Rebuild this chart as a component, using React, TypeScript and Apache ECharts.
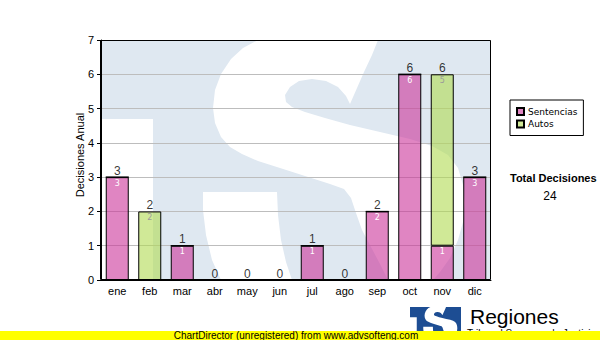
import React, { useEffect, useRef } from 'react';
import * as echarts from 'echarts';

const months = ['ene', 'feb', 'mar', 'abr', 'may', 'jun', 'jul', 'ago', 'sep', 'oct', 'nov', 'dic'];
const sentencias = [3, 0, 1, 0, 0, 0, 1, 0, 2, 6, 1, 3];
const autos = [0, 2, 0, 0, 0, 0, 0, 0, 0, 0, 5, 0];
const yMin = 0;
const yMax = 7;
const yStep = 1;
const seriesNames = ['Sentencias', 'Autos'];
const yAxisTitle = 'Decisiones Anual';
const totalTitle = 'Total Decisiones';

// decorative watermark (TSJ "S" mark), page pixel coordinates
const MARK_D =
  'M101,119 L153,119 L153,280 L101,280 Z ' +
  'M258,40 L378,40 L372,55 L364,72 L357,88 L350,104 L346,96 L338,87 L326,81 L312,79 L299,81 L290,87 L285,95 L286,102 L292,107 L305,112 L325,118 L350,125 L380,132 L410,139 L432,146 L448,155 L458,168 L463,185 L465,203 L463,222 L458,240 L450,258 L440,272 L433,280 L388,280 L380,264 L371,247 L362,230 L356,213 L351,198 L344,189 L330,184 L305,176 L280,168 L258,161 L242,154 L230,147 L221,137 L215,123 L213,108 L215,90 L221,74 L231,59 L243,48 Z ' +
  'M203,192 L277,192 L278,215 L281,240 L286,262 L292,280 L221,280 L212,260 L206,235 L203,210 Z';

let registered = false;
function ensureShape() {
  if (registered) return;
  echarts.graphic.registerShape('tsjMark', echarts.graphic.extendPath(MARK_D, {}));
  registered = true;
}

const AX_FONT = '"Liberation Sans", Arial, sans-serif';

export default function App() {
  const ref = useRef<HTMLDivElement>(null);
  useEffect(() => {
    document.body.style.margin = '0';
    ensureShape();
    const chart = echarts.init(ref.current!, undefined, { renderer: 'svg' });
    const totals = sentencias.map((v, i) => v + autos[i]);
    const grand = totals.reduce((a, b) => a + b, 0);
    const s = 0.13;
    chart.setOption({
      animation: false,
      grid: { left: 101, right: 109, top: 40, bottom: 60 },
      legend: {
        data: seriesNames,
        orient: 'vertical',
        left: 510,
        top: 100,
        padding: [7, 6, 7, 6],
        itemWidth: 7,
        itemHeight: 7,
        itemGap: 3.5,
        borderColor: '#000',
        borderWidth: 1,
        backgroundColor: '#fff',
        icon: 'rect',
        textStyle: { fontFamily: '"DejaVu Sans", Verdana, sans-serif', fontSize: 9, color: '#000', padding: [0, 0, 0, -1] },
      },
      xAxis: {
        type: 'category',
        data: months,
        axisLine: { lineStyle: { color: '#000', width: 1 } },
        axisTick: { alignWithLabel: true, length: 3, lineStyle: { color: '#000' } },
        axisLabel: { color: '#000', fontSize: 11, fontFamily: AX_FONT, margin: 5 },
        splitLine: { show: false },
      },
      yAxis: {
        type: 'value',
        min: yMin,
        max: yMax,
        interval: yStep,
        name: yAxisTitle,
        nameLocation: 'middle',
        nameGap: 16,
        nameMoveOverlap: false,
        nameTextStyle: { color: '#000', fontSize: 11, fontFamily: AX_FONT, padding: [0, 0, 0, 10] },
        axisLine: { show: true, lineStyle: { color: '#000', width: 1 } },
        axisTick: { show: true, length: 4, lineStyle: { color: '#000' } },
        axisLabel: { color: '#000', fontSize: 11, fontFamily: AX_FONT, margin: 7 },
        splitLine: { show: true, lineStyle: { color: '#bdbdbd', width: 1 } },
      },
      series: [
        {
          name: seriesNames[0],
          type: 'bar',
          stack: 'total',
          barWidth: 23,
          data: sentencias,
          itemStyle: { color: 'rgba(204,51,153,0.6)', borderColor: '#000', borderWidth: 1 },
          label: {
            show: true,
            position: 'insideTop',
            distance: 2,
            fontSize: 8,
            fontFamily: '"DejaVu Sans", Verdana, sans-serif',
            color: '#fff',
            formatter: (p: any) => (p.value ? String(p.value) : ''),
          },
        },
        {
          name: seriesNames[1],
          type: 'bar',
          stack: 'total',
          barWidth: 23,
          data: autos,
          itemStyle: { color: 'rgba(176,218,82,0.6)', borderColor: '#000', borderWidth: 1 },
          label: {
            show: true,
            position: 'insideTop',
            distance: 2,
            fontSize: 8,
            fontFamily: '"DejaVu Sans", Verdana, sans-serif',
            color: '#9a9a9a',
            formatter: (p: any) => (p.value ? String(p.value) : ''),
          },
        },
        {
          name: 'total',
          type: 'scatter',
          data: totals,
          symbolSize: 1,
          silent: true,
          z: 6,
          itemStyle: { color: 'rgba(0,0,0,0)' },
          label: {
            show: true,
            position: 'top',
            distance: 0,
            fontSize: 12,
            fontFamily: AX_FONT,
            color: '#000',
            formatter: (p: any) => String(p.value),
          },
        },
      ],
      graphic: [
        { type: 'rect', z: -10, shape: { x: 101, y: 40, width: 390, height: 240 }, style: { fill: '#dfe8f1' } },
        { type: 'tsjMark', z: -9, x: 0, y: 0, style: { fill: '#ffffff' } },
        {
          type: 'rect',
          z: 10,
          shape: { x: 100.5, y: 40.5, width: 390, height: 239 },
          style: { fill: 'none', stroke: '#000', lineWidth: 1 },
        },
        {
          type: 'text',
          z: 10,
          x: 510,
          y: 178,
          style: {
            text: totalTitle,
            font: 'bold 11px "Liberation Sans", Arial, sans-serif',
            fill: '#000',
            textAlign: 'left',
            textVerticalAlign: 'middle',
            align: 'left',
            verticalAlign: 'middle',
          },
        },
        {
          type: 'text',
          z: 10,
          x: 550,
          y: 196,
          style: {
            text: String(grand),
            font: '12px "Liberation Sans", Arial, sans-serif',
            fill: '#000',
            textAlign: 'center',
            textVerticalAlign: 'middle',
            align: 'center',
            verticalAlign: 'middle',
          },
        },
        { type: 'rect', z: 10, shape: { x: 410, y: 307, width: 51, height: 26 }, style: { fill: '#1d4d93' } },
        {
          type: 'tsjMark',
          z: 11,
          x: 410 - 101 * s,
          y: 307 - 40 * s,
          scaleX: s,
          scaleY: s,
          style: { fill: '#ffffff' },
        },
        {
          type: 'text',
          z: 10,
          x: 470,
          y: 316,
          style: {
            text: 'Regiones',
            font: '21px "Liberation Sans", Arial, sans-serif',
            fill: '#000',
            textAlign: 'left',
            textVerticalAlign: 'middle',
            align: 'left',
            verticalAlign: 'middle',
          },
        },
        {
          type: 'text',
          z: 10,
          x: 467,
          y: 333,
          style: {
            text: 'Tribunal Supremo de Justicia',
            font: '10px "Liberation Sans", Arial, sans-serif',
            fill: '#000',
            textAlign: 'left',
            textVerticalAlign: 'middle',
            align: 'left',
            verticalAlign: 'middle',
          },
        },
        { type: 'rect', z: 20, shape: { x: 0, y: 331, width: 600, height: 9 }, style: { fill: '#ffff00' } },
        {
          type: 'text',
          z: 21,
          x: 296,
          y: 335.5,
          style: {
            text: 'ChartDirector (unregistered) from www.advsofteng.com',
            font: '10px "Liberation Sans", Arial, sans-serif',
            fill: '#000',
            textAlign: 'center',
            textVerticalAlign: 'middle',
            align: 'center',
            verticalAlign: 'middle',
          },
        },
      ],
    });
    return () => chart.dispose();
  }, []);
  return <div ref={ref} style={{ width: 600, height: 340 }} />;
}
